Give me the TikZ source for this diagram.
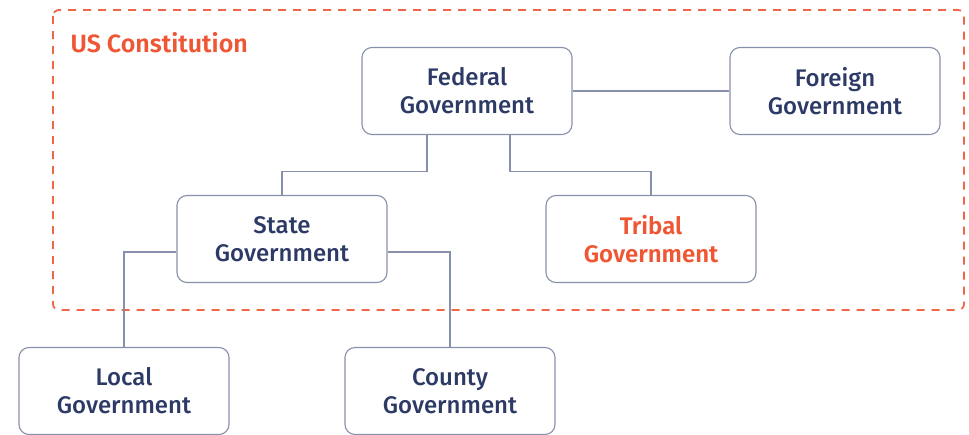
\documentclass[tikz,border=0pt]{standalone}
\usepackage{fontspec}
\setmainfont{Fira Sans}[UprightFont={* Medium},BoldFont={* SemiBold}]
\usetikzlibrary{positioning}
\definecolor{navy}{HTML}{2D3A66}
\definecolor{usred}{HTML}{EE5634}
\definecolor{edge}{HTML}{8790AA}
\tikzstyle{gov} = [rectangle, rounded corners=10pt, draw=edge, line width=1.1pt, minimum width=210pt, minimum height=87pt, align=center, text=navy, font=\fontsize{24}{28}\selectfont]
\tikzstyle{link} = [draw=edge, line width=1.1pt]
\tikzstyle{frame} = [draw=usred!90, line width=1.8pt, dash pattern=on 8pt off 7pt, rounded corners=6pt]

\begin{document}
\begin{tikzpicture}[x=1pt,y=-1pt]
        \useasboundingbox (0,0) rectangle (969,434);
        \draw [frame] (53,10) rectangle (964,310);
        \node [anchor=west, text=usred, font=\bfseries\fontsize{25}{28}\selectfont] at (67,43) (usc) {US Constitution};
        \node [gov] at (467,91) (fed) {Federal\\Government};
        \node [gov] at (835,91) (for) {Foreign\\Government};
        \node [gov] at (282,239) (state) {State\\Government};
        \node [gov, text=usred, font=\bfseries\fontsize{24}{28}\selectfont] at (651,239) (tribal) {Tribal\\Government};
        \node [gov] at (124,391) (local) {Local\\Government};
        \node [gov] at (450,391) (county) {County\\Government};
        \draw [link] (fed) -- (for);
        \draw [link] ([xshift=-40pt]fed.south) -- ++(0,36) -| (state);
        \draw [link] ([xshift=43pt]fed.south) -- ++(0,36) -| (tribal);
        \draw [link] ([yshift=-13pt]state.west) -| (local);
        \draw [link] ([yshift=-13pt]state.east) -| (county);
        \end{tikzpicture}
\end{document}
